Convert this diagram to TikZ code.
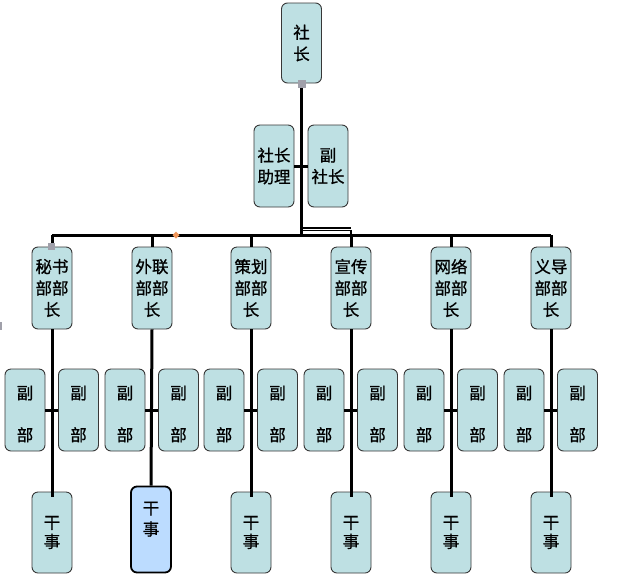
\documentclass[tikz,border=0pt]{standalone}
\usepackage{fontspec}
\newfontfamily\cjk[RawFeature={embolden=0.8}]{Noto Sans CJK SC}
\definecolor{boxfill}{RGB}{190,224,227}
\definecolor{hifill}{RGB}{188,220,255}
\definecolor{boxline}{RGB}{55,55,55}
\definecolor{greymarker}{RGB}{160,160,170}
\definecolor{orangemarker}{RGB}{240,150,90}
\tikzset{
  orgbox/.style={draw=boxline, fill=boxfill, line width=0.9pt, rounded corners=6pt,
    minimum width=40pt, minimum height=82pt, inner sep=0pt, align=center,
    font=\cjk\fontsize{16.5}{21.5}\selectfont},
  hibox/.style={orgbox, fill=hifill, draw=black, line width=1.8pt, minimum height=86pt},
  deputy/.style={orgbox, label={[font=\cjk\fontsize{16.5}{42}\selectfont, align=center, yshift=-4pt, inner sep=0pt]center:副\\部}},
  link/.style={line width=3pt, black},
  thin link/.style={line width=1.2pt, black}
}
\begin{document}
\begin{tikzpicture}[x=1pt,y=-1pt]
\useasboundingbox (0,0) rectangle (644,576);
% top
\node[orgbox, minimum height=80pt] (pres) at (301.5,43) {社\\长};
\node[orgbox] (asst) at (274,166) {社长\\助理};
\node[orgbox] (vp) at (328,166) {副\\社长};
\coordinate (barL) at (52,235);
\coordinate (barR) at (551,235);
\draw[link] (barL) -- (barR);
\draw[link] (pres.south) -- (pres.south |- barL);
\draw[link] (asst.east) -- (vp.west);
\coordinate (jA) at (302,230.5);
\coordinate (jB) at (351,230.5);
\coordinate (jC) at (351,241);
\draw[thin link] (jA) -- (jB) -- (jC);
\draw[thin link] ([yshift=2.6pt]jA) -- ([yshift=2.6pt]jB);
% departments
\foreach \i/\c/\t in {1/52/秘书, 2/152/外联, 3/251/策划, 4/351/宣传, 5/451/网络, 6/551/义导}{
  \node[orgbox] (d\i) at (\c,288) {\t\\部部\\长};
  \draw[link] (d\i.north) -- (d\i.north |- barL);
  \node[deputy] (l\i) at (\c-27,410) {};
  \node[deputy] (r\i) at (\c+26.5,410) {};
  \draw[link] (l\i.east) -- (r\i.west);
}
\foreach \i/\c in {1/52, 3/251, 4/351, 5/451, 6/551}{
  \node[orgbox, minimum height=81pt, font=\cjk\fontsize{16.5}{19}\selectfont] (s\i) at (\c,532.5) {干\\事};
  \draw[link] (d\i.south) -- ([yshift=-5pt]s\i.north);
}
\node[hibox, font=\cjk\fontsize{16.5}{21}\selectfont] (s2) at (151,529.5) {干\\事\\[1pt]\mbox{}};
\draw[link] (d2.south) -- (s2.north);
% small markers
\fill[greymarker] (298,80) rectangle (306,88);
\fill[greymarker] (48,243) rectangle (55,250);
\fill[orangemarker] (176,231.5) -- (179.5,235) -- (176,238.5) -- (172.5,235) -- cycle;
\fill[greymarker] (0,322) rectangle (2,330);
\end{tikzpicture}
\end{document}
